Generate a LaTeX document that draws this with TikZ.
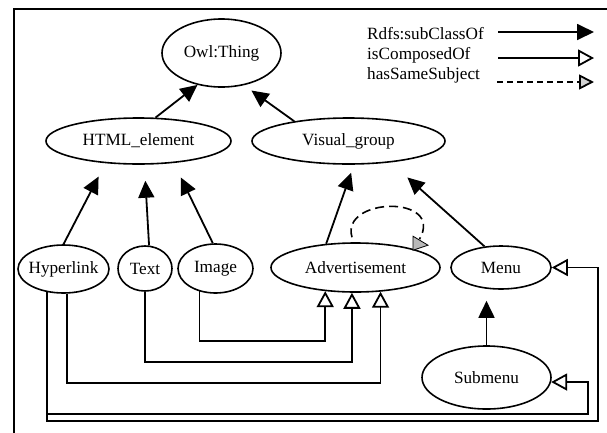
\documentclass[tikz,border=0pt]{standalone}
\usepackage{fontspec}
\setmainfont{Liberation Serif}
\usetikzlibrary{shapes.geometric,arrows.meta,calc}
\newcommand\diafont{\fontsize{17.2pt}{20pt}\selectfont}
\begin{document}
\begin{tikzpicture}[x=1pt,y=-1pt,
  every node/.style={font=\diafont},
  cls/.style={ellipse,draw,line width=1.6pt,inner sep=0pt,inner xsep=-4pt},
  sub/.style={line width=1.8pt,-{Triangle[length=17pt,width=16pt]}},
  comp/.style={line width=1.8pt,-{Triangle[open,length=16pt,width=17pt]}},
  hss/.style={line width=1.8pt,dash pattern=on 6pt off 4pt,-{Triangle[fill=gray!35,length=15pt,width=15pt]}},
  loopline/.style={line width=1.6pt,dash pattern=on 9pt off 5pt},
  legend/.style={anchor=base west,inner sep=0pt}]
\useasboundingbox (0,0) rectangle (607,432);
% frame
\draw[line width=2pt] (612,9) -- (14,9) -- (14,437);
% classes
\node[cls,minimum width=119pt,minimum height=68pt] (owl) at (221.5,53) {Owl:Thing};
\node[cls,minimum width=185pt,minimum height=46pt] (html) at (138.5,141) {HTML\_element};
\node[cls,minimum width=193pt,minimum height=46pt] (vg) at (348.5,141) {Visual\_group};
\node[cls,minimum width=91pt,minimum height=48pt] (hyper) at (63.5,269) {Hyperlink};
\node[cls,minimum width=54pt,minimum height=45pt] (text) at (145,268.5) {Text};
\node[cls,minimum width=75pt,minimum height=49pt] (image) at (215.5,268.5) {Image};
\node[cls,minimum width=169pt,minimum height=49pt] (adv) at (355.5,267.5) {Advertisement};
\node[cls,minimum width=100pt,minimum height=43pt] (menu) at (501,267.5) {Menu};
\node[cls,minimum width=129pt,minimum height=63pt] (sub) at (486.5,377.5) {Submenu};
% legend
\node[legend] (lt1) at (367,39) {Rdfs:subClassOf};
\node[legend] (lt2) at (367,59) {isComposedOf};
\node[legend] (lt3) at (367,79) {hasSameSubject};
\coordinate (la1) at (498,32); \coordinate (lb1) at (594,32);
\coordinate (la2) at (498,58); \coordinate (lb2) at (594,58);
\coordinate (la3) at (497,82); \coordinate (lb3) at (594,82);
\draw[sub] (la1) -- (lb1);
\draw[comp] (la2) -- (lb2);
\draw[hss] (la3) -- (lb3);
% subClassOf
\draw[sub] (html.54) -- (owl.233);
\draw[sub,shorten >=9pt] (vg.160) -- (owl.305);
\draw[sub,shorten >=15pt] (hyper.north) -- (html.214);
\draw[sub,shorten >=16pt] (text.80) -- (html.284);
\draw[sub,shorten >=16pt] (image.96) -- (html.328);
\draw[sub,shorten >=8.5pt] (adv.141) -- (vg.283);
\draw[sub,shorten >=22.5pt] (menu.128) -- (vg.333);
\draw[sub,shorten >=11pt] (sub.north) -- (sub.north |- menu.south);
% isComposedOf
\coordinate (j1) at (0,341);
\coordinate (j2) at (0,362);
\coordinate (j3) at (0,383);
\coordinate (r1) at (588,414);
\coordinate (r2) at (598,421);
\draw[comp] (image.235) -- (image.235 |- j1) -| (adv.218);
\draw[comp] (text.south) -- (text.south |- j2) -| (adv.262);
\draw[comp] (hyper.278) -- (hyper.278 |- j3) -| (adv.316);
\draw[comp] (hyper.234) |- (r1) |- (sub.356);
\draw[comp] (hyper.234) |- (r2) |- (menu.east);
% hasSameSubject (self loop)
\draw[loopline] ($(adv.north)+(-3.5,-5)$) .. controls ($(adv.north)+(-15.5,-45)$) and ($(adv.north)+(89.5,-48)$) .. ($(adv.north)+(64,-3)$);
\filldraw[fill=gray!55,draw=black,line width=0.8pt] ($(adv.north)+(57.5,-6)$) -- ($(adv.north)+(72.5,3)$) -- ($(adv.north)+(57.5,8)$) -- cycle;
\end{tikzpicture}
\end{document}
